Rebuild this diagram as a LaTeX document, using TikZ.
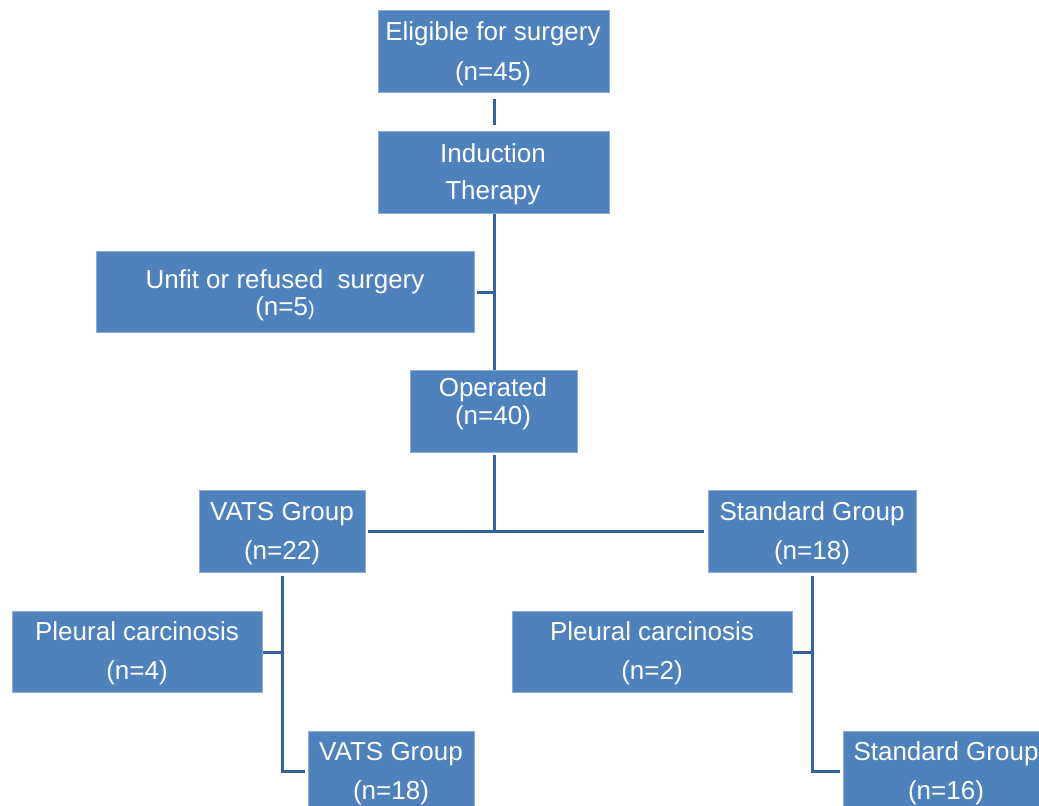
\documentclass[tikz,border=0pt]{standalone}
\usepackage{fontspec}
\setmainfont{Liberation Sans}
\definecolor{boxblue}{HTML}{4F81BD}
\definecolor{boxedge}{HTML}{8EADD6}
\definecolor{linkblue}{HTML}{3464A0}
\begin{document}
\begin{tikzpicture}[x=0.5pt,y=-0.5pt,
  boxnode/.style={rectangle, fill=boxblue, draw=boxedge, line width=0.6pt, inner sep=0pt, anchor=north west},
  txt/.style={anchor=base, text=white, inner sep=0pt, font=\fontsize{13}{15}\selectfont},
  link/.style={draw=linkblue, line width=1.5pt}]
\useasboundingbox (0,0) rectangle (1039,805);
\clip (0,0) rectangle (1039,805);
% boxes: (x1,y1) and size in px -> minimum width = w/2 pt
\node[boxnode, minimum width=115.5pt, minimum height=41pt] (b1) at (378,10) {};
\node[boxnode, minimum width=115.5pt, minimum height=41pt] (b2) at (378,131) {};
\node[boxnode, minimum width=189pt, minimum height=40.5pt] (b3) at (96,251) {};
\node[boxnode, minimum width=83.5pt, minimum height=41pt] (b4) at (410,370) {};
\node[boxnode, minimum width=83pt, minimum height=41pt] (b5) at (199,490) {};
\node[boxnode, minimum width=104pt, minimum height=41pt] (b6) at (708,490) {};
\node[boxnode, minimum width=125pt, minimum height=40.5pt] (b7) at (12,611) {};
\node[boxnode, minimum width=140pt, minimum height=40.5pt] (b8) at (512,611) {};
\node[boxnode, minimum width=83pt, minimum height=40pt] (b9) at (308,731) {};
\node[boxnode, minimum width=104pt, minimum height=40pt] (b10) at (843,731) {};
% texts
\node[txt] (t1a) at (493,40) {Eligible for surgery};
\node[txt] (t1b) at (493,80) {(n=45)};
\node[txt] (t2a) at (493,162) {Induction};
\node[txt] (t2b) at (493,199) {Therapy};
\node[txt] (t3a) at (285,288) {Unfit or refused\ \ surgery};
\node[txt] (t3b) at (285,315) {(n=5{\fontsize{10}{12}\selectfont)}};
\node[txt] (t4a) at (493,396) {Operated};
\node[txt] (t4b) at (493,424) {(n=40)};
\node[txt] (t5a) at (282,520) {VATS Group};
\node[txt] (t5b) at (282,559) {(n=22)};
\node[txt] (t6a) at (812,520) {Standard Group};
\node[txt] (t6b) at (812,559) {(n=18)};
\node[txt] (t7a) at (137,640) {Pleural carcinosis};
\node[txt] (t7b) at (137,679) {(n=4)};
\node[txt] (t8a) at (652,640) {Pleural carcinosis};
\node[txt] (t8b) at (652,679) {(n=2)};
\node[txt] (t9a) at (391,760) {VATS Group};
\node[txt] (t9b) at (391,799) {(n=18)};
\node[txt] (t10a) at (946,760) {Standard Group};
\node[txt] (t10b) at (946,799) {(n=16)};
% connectors
\coordinate (j1) at (b3.east -| b2.south);
\coordinate (j2) at (b5.east -| b4.south);
\coordinate (j3) at (b9.west -| b5.south);
\coordinate (j4) at (b10.west -| b6.south);
\path[link] ([yshift=-3pt]b1.south) -- ([yshift=3pt]b2.north);
\path[link] (b2.south) -- (b4.north);
\path[link] ([xshift=1pt]b3.east) -- (j1);
\path[link] ([yshift=-1pt]b4.south) -- (j2);
\path[link] ([xshift=1pt]b5.east) -- ([xshift=-2pt]b6.west);
\path[link] ([yshift=-1.5pt]b5.south) -- (j3) -- ([xshift=-1.5pt]b9.west);
\path[link] ([yshift=-1.5pt]b6.south) -- (j4) -- ([xshift=-1.5pt]b10.west);
\path[link] (b7.east) -- (b7.east -| j3);
\path[link] (b8.east) -- (b8.east -| j4);
\end{tikzpicture}
\end{document}
